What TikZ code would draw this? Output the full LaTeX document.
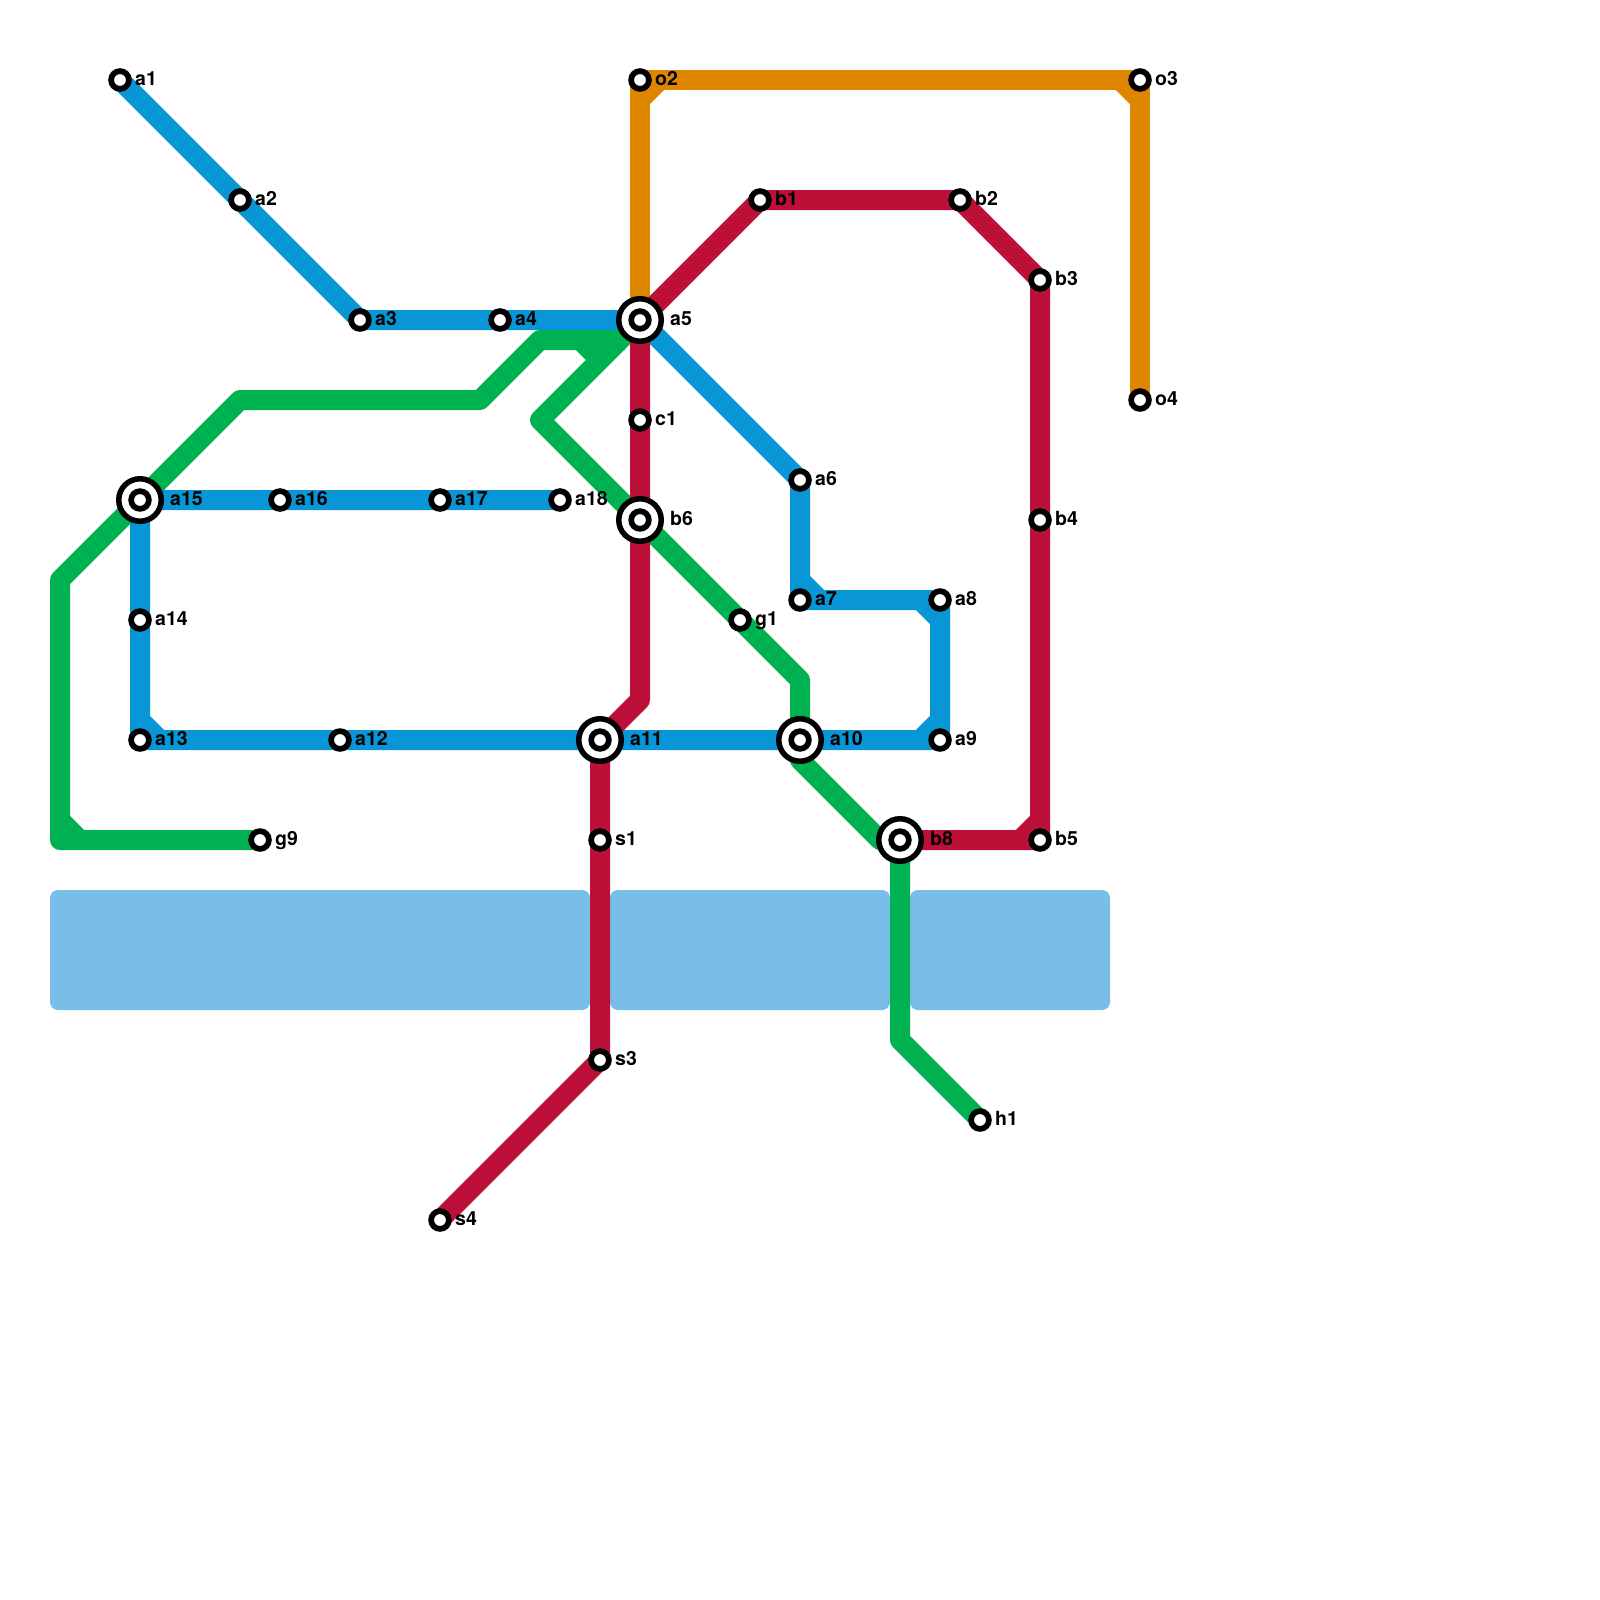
\documentclass[tikz,border=0pt]{standalone}
\usepackage{fontspec}
\setmainfont{TeX Gyre Heros}
\pgfdeclarelayer{lines}
\pgfsetlayers{lines,main}
\definecolor{bluel}{HTML}{0896D7}
\definecolor{redl}{HTML}{BD1038}
\definecolor{greenl}{HTML}{00B251}
\definecolor{orangel}{HTML}{DF8600}
\definecolor{waterc}{HTML}{79BDE9}
\tikzset{
  stnsmall/.style={circle,draw=black,fill=white,line width=5.7pt,minimum size=17.8pt,inner sep=0pt},
  stninner/.style={circle,draw=black,fill=white,line width=5.7pt,minimum size=17.7pt,inner sep=0pt},
  stnring/.style={circle,draw=black,fill=white,line width=5.5pt,minimum size=42.5pt,inner sep=0pt},
  lbl/.style={anchor=base west,inner sep=0pt,text=black,font=\fontsize{19.5}{22}\selectfont\bfseries},
  routeline/.style={line width=20pt,line join=round,line cap=butt},
  waterbox/.style={fill=waterc,rounded corners=8pt,draw=none}
}
\newcommand{\smallstn}[4]{%
  \node[stnsmall] (#1) at (#2,#3) {};
  \node[lbl] (#1t) at (#2+15,#3+5.5) {#4};
}
\newcommand{\bigstn}[4]{%
  \node[stnring] (#1r) at (#2,#3) {};
  \node[stninner] (#1) at (#2,#3) {};
  \node[lbl] (#1t) at (#2+30,#3+5.5) {#4};
}
\begin{document}
\begin{tikzpicture}[x=1pt,y=-1pt]
\useasboundingbox (0,0) rectangle (1600,1600);
% stations
\smallstn{a1}{120}{80}{a1}
\smallstn{a2}{240}{200}{a2}
\smallstn{a3}{360}{320}{a3}
\smallstn{a4}{500}{320}{a4}
\bigstn{a5}{640}{320}{a5}
\smallstn{a6}{800}{480}{a6}
\smallstn{a7}{800}{600}{a7}
\smallstn{a8}{940}{600}{a8}
\smallstn{a9}{940}{740}{a9}
\bigstn{a10}{800}{740}{a10}
\bigstn{a11}{600}{740}{a11}
\smallstn{a12}{340}{740}{a12}
\smallstn{a13}{140}{740}{a13}
\smallstn{a14}{140}{620}{a14}
\bigstn{a15}{140}{500}{a15}
\smallstn{a16}{280}{500}{a16}
\smallstn{a17}{440}{500}{a17}
\smallstn{a18}{560}{500}{a18}
\smallstn{o2}{640}{80}{o2}
\smallstn{o3}{1140}{80}{o3}
\smallstn{o4}{1140}{400}{o4}
\smallstn{b1}{760}{200}{b1}
\smallstn{b2}{960}{200}{b2}
\smallstn{b3}{1040}{280}{b3}
\smallstn{b4}{1040}{520}{b4}
\smallstn{b5}{1040}{840}{b5}
\bigstn{b6}{640}{520}{b6}
\bigstn{b8}{900}{840}{b8}
\smallstn{c1}{640}{420}{c1}
\smallstn{s1}{600}{840}{s1}
\smallstn{s3}{600}{1060}{s3}
\smallstn{s4}{440}{1220}{s4}
\smallstn{g1}{740}{620}{g1}
\smallstn{g9}{260}{840}{g9}
\smallstn{h1}{980}{1120}{h1}
% bends
\coordinate (gA) at (60,840);
\coordinate (gB) at (60,580);
\coordinate (gC) at (240,400);
\coordinate (gD) at (480,400);
\coordinate (gE) at (540,340);
\coordinate (gF) at (625,340);
\coordinate (gG) at (540,420);
\coordinate (gH) at (800,680);
\coordinate (gL) at (800,760);
\coordinate (gM) at (880,840);
\coordinate (gI) at (900,1040);
\coordinate (gJ1) at (60,820);
\coordinate (gJ2) at (80,840);
\coordinate (gK1) at (580,340);
\coordinate (gK2) at (600,360);
\coordinate (rA) at (640,700);
\coordinate (rB1) at (1020,840);
\coordinate (rB2) at (1040,820);
\coordinate (oA1) at (640,100);
\coordinate (oA2) at (660,80);
\coordinate (oB1) at (1120,80);
\coordinate (oB2) at (1140,100);
\coordinate (bA1) at (140,720);
\coordinate (bA2) at (160,740);
\coordinate (bB1) at (800,580);
\coordinate (bB2) at (820,600);
\coordinate (bC1) at (920,600);
\coordinate (bC2) at (940,620);
\coordinate (bD1) at (920,740);
\coordinate (bD2) at (940,720);
\begin{pgfonlayer}{lines}
\fill[white] (0,0) rectangle (1600,1600);
% water
\fill[waterbox] (50,890) rectangle (590,1010);
\fill[waterbox] (610,890) rectangle (890,1010);
\fill[waterbox] (910,890) rectangle (1110,1010);
% green
\draw[routeline,greenl] (g9.center) -- (gA) -- (gB) -- (a15.center) -- (gC) -- (gD) -- (gE) -- (gF);
\draw[routeline,greenl] (a5.center) -- (gG) -- (b6.center) -- (g1.center) -- (gH) -- (gL) -- (gM) -- (b8.center) -- (gI) -- (h1.center);
\draw[routeline,greenl] (gJ1) -- (gJ2);
\draw[routeline,greenl] (gK1) -- (gK2);
% blue
\draw[routeline,bluel] (a1.center) -- (a2.center) -- (a3.center) -- (a4.center) -- (a5.center) -- (a6.center) -- (a7.center) -- (a8.center) -- (a9.center) -- (a10.center) -- (a11.center) -- (a12.center) -- (a13.center) -- (a14.center) -- (a15.center) -- (a16.center) -- (a17.center) -- (a18.center);
\draw[routeline,bluel] (bA1) -- (bA2);
\draw[routeline,bluel] (bB1) -- (bB2);
\draw[routeline,bluel] (bC1) -- (bC2);
\draw[routeline,bluel] (bD1) -- (bD2);
% orange
\draw[routeline,orangel] (a5.center) -- (o2.center) -- (o3.center) -- (o4.center);
\draw[routeline,orangel] (oA1) -- (oA2);
\draw[routeline,orangel] (oB1) -- (oB2);
% red
\draw[routeline,redl] (a5.center) -- (b1.center) -- (b2.center) -- (b3.center) -- (b4.center) -- (b5.center) -- (b8.center);
\draw[routeline,redl] (rB1) -- (rB2);
\draw[routeline,redl] (a5.center) -- (c1.center) -- (b6.center) -- (rA) -- (a11.center) -- (s1.center) -- (s3.center) -- (s4.center);
\end{pgfonlayer}
\end{tikzpicture}
\end{document}
